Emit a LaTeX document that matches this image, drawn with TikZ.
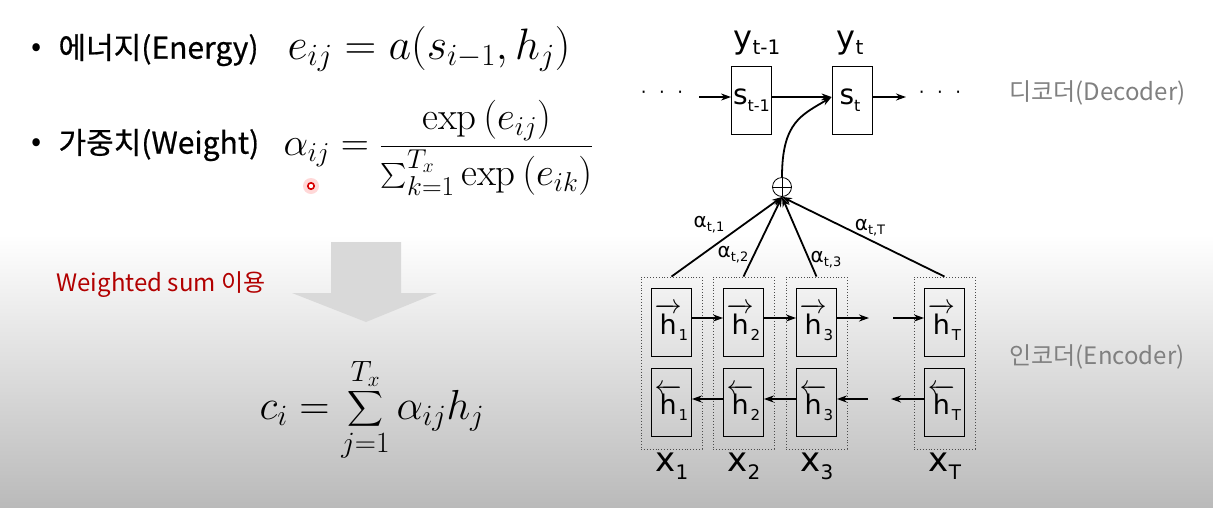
\RequirePackage{fix-cm}
\documentclass[tikz,border=0pt]{standalone}
\usepackage{amsmath}
\usepackage{fontspec}
\newfontfamily\kr{Noto Sans CJK KR}
\newfontfamily\krb[FakeBold=0.6]{Noto Sans CJK KR}
\newfontfamily\djv{DejaVu Sans}
\usetikzlibrary{arrows.meta,calc}
\tikzset{
  arr/.style={line width=1.8pt,-{Stealth[length=10pt,width=7pt]}},
  inbox/.style={draw,line width=0.8pt,minimum width=40pt,minimum height=68pt,inner sep=0pt},
  outbox/.style={draw=black!70,dotted,line width=0.9pt,minimum width=61pt,minimum height=172pt,inner sep=0pt},
  decbox/.style={draw,line width=0.8pt,minimum width=40pt,minimum height=68pt,inner sep=0pt},
  dots/.style={font=\djv\fontsize{18}{18}\selectfont},
}
\newcommand\hf[1]{{\djv\fontsize{27}{27}\selectfont$\overrightarrow{\hbox{h}}$\kern-3pt\raisebox{-6pt}{\fontsize{15}{15}\selectfont #1}}}
\newcommand\hb[1]{{\djv\fontsize{27}{27}\selectfont$\overleftarrow{\hbox{h}}$\kern-3pt\raisebox{-6pt}{\fontsize{15}{15}\selectfont #1}}}
\newcommand\xl[1]{{\djv\fontsize{34}{34}\selectfont x\raisebox{-8pt}{\fontsize{20}{20}\selectfont #1}}}
\newcommand\al[1]{{\djv\fontsize{20}{20}\selectfont α\raisebox{-4pt}{\fontsize{13}{13}\selectfont #1}}}
\begin{document}
\begin{tikzpicture}[x=1pt,y=-1pt]
\useasboundingbox (0,0) rectangle (1213,507);
\fill[white] (0,0) rectangle (1213,507);
\shade[top color=white,bottom color=black!27] (0,235) rectangle (1213,507);

% left texts
\node[anchor=center,font=\fontsize{30}{30}\selectfont] (b1) at (37,50) {\kr •};
\node[anchor=west,font=\krb\fontsize{30}{30}\selectfont] (t1) at (55,50) {에너지(Energy)};
\node[anchor=west,font=\fontsize{44}{50}\selectfont] (m1) at (284,49) {$e_{ij} = a(s_{i-1},h_j)$};
\node[anchor=center,font=\fontsize{30}{30}\selectfont] (b2) at (37,145) {\kr •};
\node[anchor=west,font=\krb\fontsize{30}{30}\selectfont] (t2) at (55,145) {가중치(Weight)};
\node[anchor=west,font=\fontsize{39}{45}\selectfont] (m2) at (280,148) {$\alpha_{ij} = \dfrac{\exp\left(e_{ij}\right)}{\sum_{k=1}^{T_x}\exp\left(e_{ik}\right)}$};

% pointer dot
\fill[red!25,opacity=0.6] (311,186) circle (8);
\draw[red!85!black,fill=white,line width=1.6pt] (311,186) circle (3.2);

\node[anchor=west,text=red!70!black,font=\kr\fontsize{24}{24}\selectfont] (ws) at (53,285) {Weighted sum 이용};
\fill[black!15] (331,242) -- (401,242) -- (401,293) -- (437,293) -- (366,322) -- (292,293) -- (331,293) -- cycle;
\node[font=\fontsize{42}{48}\selectfont] (m3) at (372,410) {$\displaystyle c_i = \sum_{j=1}^{T_x}\alpha_{ij}h_j$};

% decoder
\node[decbox] (s1) at (751.5,100) {};
\node[decbox] (s2) at (852,100) {};
\node[font=\djv\fontsize{28}{28}\selectfont] (s1l) at (751.5,100) {s\raisebox{-7pt}{\fontsize{16}{16}\selectfont t-1}};
\node[font=\djv\fontsize{28}{28}\selectfont] (s2l) at (850,100) {s\raisebox{-7pt}{\fontsize{16}{16}\selectfont t}};
\node[font=\djv\fontsize{32}{32}\selectfont] (y1) at (757,43) {y\raisebox{-6pt}{\fontsize{20}{20}\selectfont t-1}};
\node[font=\djv\fontsize{32}{32}\selectfont] (y2) at (850,43) {y\raisebox{-6pt}{\fontsize{20}{20}\selectfont t}};
\node[dots] (dl) at (662,95) {·\hspace{12.5pt}·\hspace{12.5pt}·};
\node[dots] (dr) at (940,95) {·\hspace{12.5pt}·\hspace{12.5pt}·};
\coordinate (a0) at (699,97);
\coordinate (a3) at (906,97);
\draw[arr] (a0) -- (a0 -| s1.west);
\draw[arr] (s1.east |- a0) -- (s2.west |- a0);
\draw[arr] (s2.east |- a0) -- (a3);

\node[circle,draw,line width=0.8pt,minimum size=19pt,inner sep=0pt] (op) at (782,187) {};
\draw[line width=0.8pt] (op.north) -- (op.south) (op.west) -- (op.east);
\draw[arr] (op.north) .. controls +(0,-55) and +(-30,18) .. (s2.west |- a0);

% encoder
\foreach \n/\x in {1/671.5,2/743.5,3/816.5,4/944.5}{
  \node[outbox] (o\n) at (\x,363) {};
  \node[inbox] (f\n) at (\x,322) {};
  \node[inbox] (b\n) at (\x,402.5) {};
}
\node (fl1) at (f1) {\hf{1}};
\node (fl2) at (f2) {\hf{2}};
\node (fl3) at (f3) {\hf{3}};
\node (fl4) at (f4) {\hf{T}};
\node (bl1) at (b1) {\hb{1}};
\node (bl2) at (b2) {\hb{2}};
\node (bl3) at (b3) {\hb{3}};
\node (bl4) at (b4) {\hb{T}};
\coordinate (fa) at (869,318);
\coordinate (fb) at (893,318);
\coordinate (ba) at (868,399);
\coordinate (bb) at (891,399);
\draw[arr] (f1.east |- fa) -- (f2.west |- fa);
\draw[arr] (f2.east |- fa) -- (f3.west |- fa);
\draw[arr] (f3.east |- fa) -- (fa);
\draw[arr] (fb) -- (f4.west |- fb);
\draw[arr] (b2.west |- ba) -- (b1.east |- ba);
\draw[arr] (b3.west |- ba) -- (b2.east |- ba);
\draw[arr] (ba) -- (b3.east |- ba);
\draw[arr] (b4.west |- bb) -- (bb);

\foreach \n in {1,2,3,4}{ \draw[arr] (o\n.north) -- (op.south); }
\node (a1) at (709,225) {\al{t,1}};
\node (a2) at (733,255) {\al{t,2}};
\node (a3l) at (826,260) {\al{t,3}};
\node (a4) at (870,228) {\al{t,T}};

\node (x1) at (672,466) {\xl{1}};
\node (x2) at (744,466) {\xl{2}};
\node (x3) at (817,466) {\xl{3}};
\node (x4) at (945,466) {\xl{T}};

\node[anchor=west,text=black!50,font=\kr\fontsize{24}{24}\selectfont] (dec) at (1006,93) {디코더(Decoder)};
\node[anchor=west,text=black!50,font=\kr\fontsize{24}{24}\selectfont] (enc) at (1006,357) {인코더(Encoder)};
\end{tikzpicture}
\end{document}
